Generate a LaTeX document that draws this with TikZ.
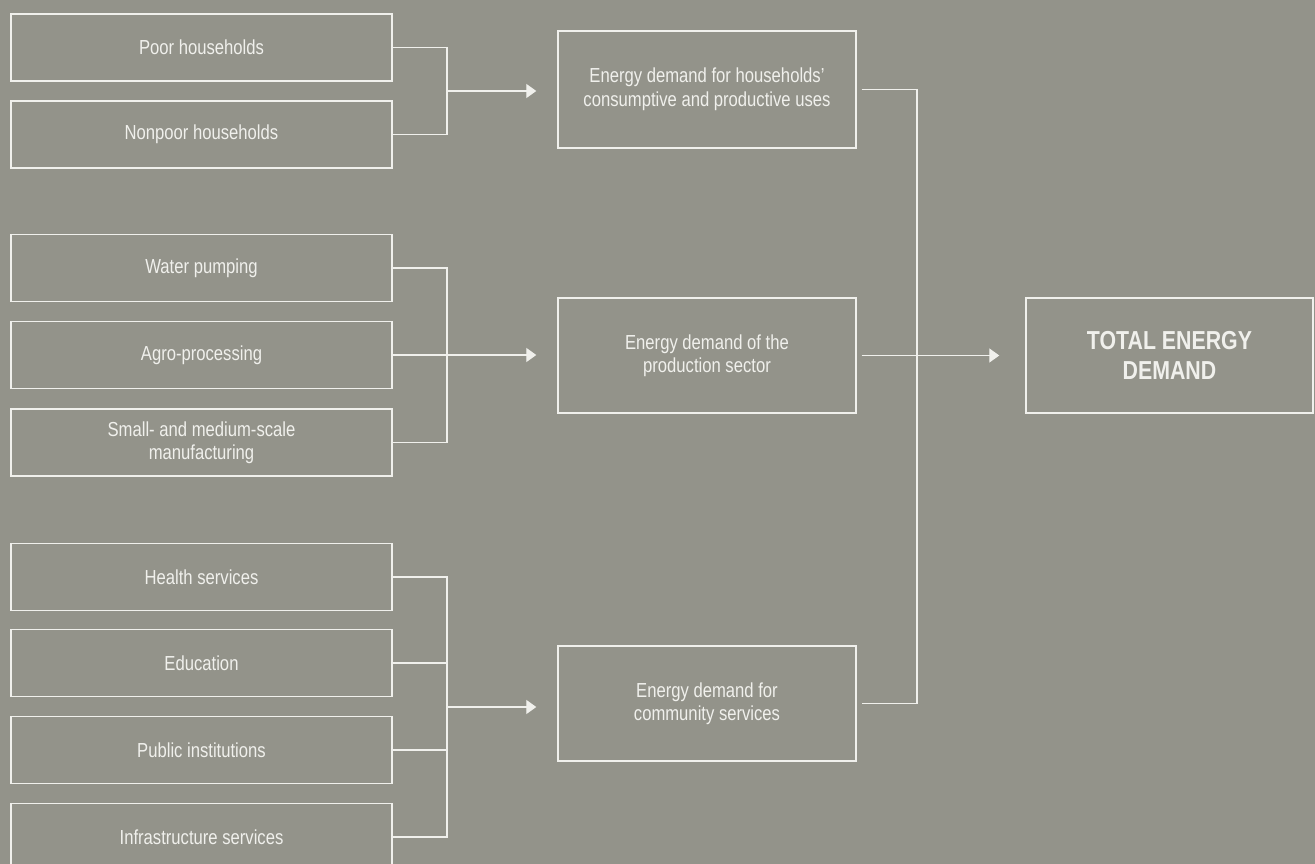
\documentclass[tikz,border=0pt]{standalone}
\usepackage{fontspec}
\setmainfont{Liberation Sans}[FakeStretch=0.82]
\usetikzlibrary{arrows.meta}
\definecolor{bg}{RGB}{147,147,138}
\definecolor{fg}{RGB}{240,240,236}
\begin{document}
\begin{tikzpicture}[x=1pt,y=-1pt,
  box/.style={draw=fg, line width=1.4pt, inner sep=0pt, text=fg, align=center,
    font=\fontsize{20.3}{23.5}\selectfont},
  leftbox/.style={box, minimum width=381pt, minimum height=67pt},
  midbox/.style={box, minimum width=298pt, minimum height=115pt},
  totalbox/.style={box, minimum width=287pt, minimum height=115pt,
    font=\fontsize{26}{30}\selectfont\bfseries},
  conn/.style={draw=fg, line width=1.3pt},
  arr/.style={conn, -{Triangle[length=10pt,width=14pt]}}]
\fill[bg] (0,0) rectangle (1315,864);
\useasboundingbox (0,0) rectangle (1315,864);
% left boxes
\node[leftbox] (p1) at (201.5,47.5) {Poor households};
\node[leftbox] (p2) at (201.5,134.5) {Nonpoor households};
\node[leftbox] (q1) at (201.5,268) {Water pumping};
\node[leftbox] (q2) at (201.5,355) {Agro-processing};
\node[leftbox] (q3) at (201.5,442.5) {Small- and medium-scale\\manufacturing};
\node[leftbox] (r1) at (201.5,577) {Health services};
\node[leftbox] (r2) at (201.5,663) {Education};
\node[leftbox] (r3) at (201.5,750) {Public institutions};
\node[leftbox] (r4) at (201.5,837) {Infrastructure services};
% middle boxes
\node[midbox, minimum height=117pt] (m1) at (707,89.5) {Energy demand for households'\\consumptive and productive uses};
\node[midbox] (m2) at (707,355.5) {Energy demand of the\\production sector};
\node[midbox] (m3) at (707,703.5) {Energy demand for\\community services};
% total
\node[totalbox] (t) at (1169.5,355.5) {TOTAL ENERGY\\DEMAND};
% junctions
\coordinate (j1) at (447,91);
\coordinate (j2) at (447,355);
\coordinate (j3) at (447,707);
\coordinate (jr) at (917,355.5);
% group 1
\draw[conn] (p1.east) -| (j1) |- (p2.east);
\draw[arr, shorten >=21pt] (j1) -- (j1 -| m1.west);
% group 2
\draw[conn] (q1.east) -| (q3.east -| j2) -- (q3.east);
\draw[conn] (q2.east) -- (j2);
\draw[arr, shorten >=21pt] (j2) -- (j2 -| m2.west);
% group 3
\draw[conn] (r1.east) -| (r4.east -| j3) -- (r4.east);
\draw[conn] (r2.east) -- (r2.east -| j3);
\draw[conn] (r3.east) -- (r3.east -| j3);
\draw[arr, shorten >=21pt] (j3) -- (j3 -| m3.west);
% right side
\draw[conn] ([xshift=5pt]m1.east) -| (jr) |- ([xshift=5pt]m3.east);
\draw[arr, shorten >=26pt] ([xshift=5pt]m2.east) -- (t.west);
\end{tikzpicture}
\end{document}
